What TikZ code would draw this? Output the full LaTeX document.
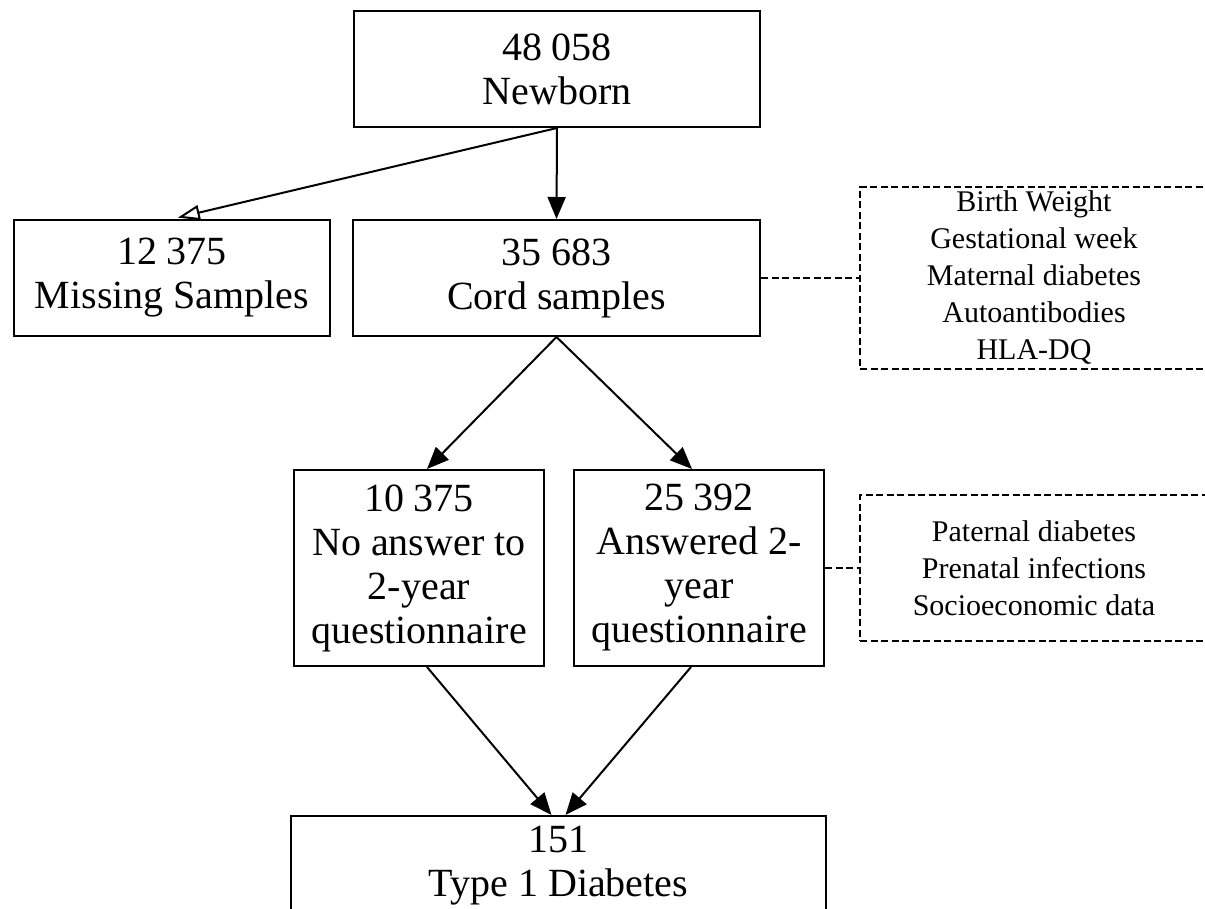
\documentclass[tikz,border=0pt]{standalone}
\usepackage{fontspec}
\setmainfont{Liberation Serif}
\usetikzlibrary{arrows.meta}

\begin{document}
\begin{tikzpicture}[x=0.5pt, y=-0.5pt,
  box/.style={draw, line width=1pt, align=center, inner sep=0pt, font=\fontsize{20}{22}\selectfont},
  infobox/.style={draw, dash pattern=on 3.5pt off 1.75pt, line width=0.9pt, align=center, inner sep=0pt, font=\fontsize{15}{18.5}\selectfont},
  link/.style={line width=1pt, -{Triangle[length=11pt, width=9pt]}},
  lost/.style={line width=1pt, -{Triangle[open, length=11pt, width=7.5pt]}},
  tie/.style={dash pattern=on 3.5pt off 1.75pt, line width=0.9pt}]

\useasboundingbox (0,0) rectangle (1205,909);
\clip (0,0) rectangle (1205,909);

\node[box, minimum width=203pt, minimum height=58pt] (newborn) at (557,69) {48 058\\Newborn};
\node[box, minimum width=158pt, minimum height=58pt] (missing) at (172,278) {12 375\\Missing Samples};
\node[box, minimum width=203.5pt, minimum height=58pt] (cord) at (556.5,278) {35 683\\Cord samples};
\node[box, minimum width=125pt, minimum height=98pt] (noans) at (419,568) {10 375\\No answer to\\2-year\\questionnaire};
\node[box, minimum width=125pt, minimum height=98pt] (answered) at (699,568) {25 392\\Answered 2-\\year\\questionnaire};
\node[box, minimum width=267.5pt, inner ysep=5pt, anchor=north] (t1d) at (558.5,815) {151\\Type 1 Diabetes\rule[-30pt]{0pt}{30pt}};

\node[infobox, minimum width=174pt, minimum height=91pt] (cordinfo) at (1034,278) {Birth Weight\\Gestational week\\Maternal diabetes\\Autoantibodies\\HLA-DQ};
\node[infobox, minimum width=174pt, minimum height=73pt] (quesinfo) at (1034,568) {Paternal diabetes\\Prenatal infections\\Socioeconomic data};

\draw[lost, shorten >=3pt] (newborn.south) -- (missing.north);
\draw[link] (newborn.south) -- (cord.north);
\draw[link] (cord.south) -- ([xshift=4pt]noans.north);
\draw[link] (cord.south) -- ([xshift=-3.5pt]answered.north);
\draw[link] ([xshift=4pt]noans.south) -- ([xshift=-3.5pt]t1d.north);
\draw[link] ([xshift=-4pt]answered.south) -- ([xshift=3.5pt]t1d.north);

\draw[tie] (cord.east) -- (cordinfo.west);
\draw[tie] (answered.east) -- (quesinfo.west);
\end{tikzpicture}
\end{document}
